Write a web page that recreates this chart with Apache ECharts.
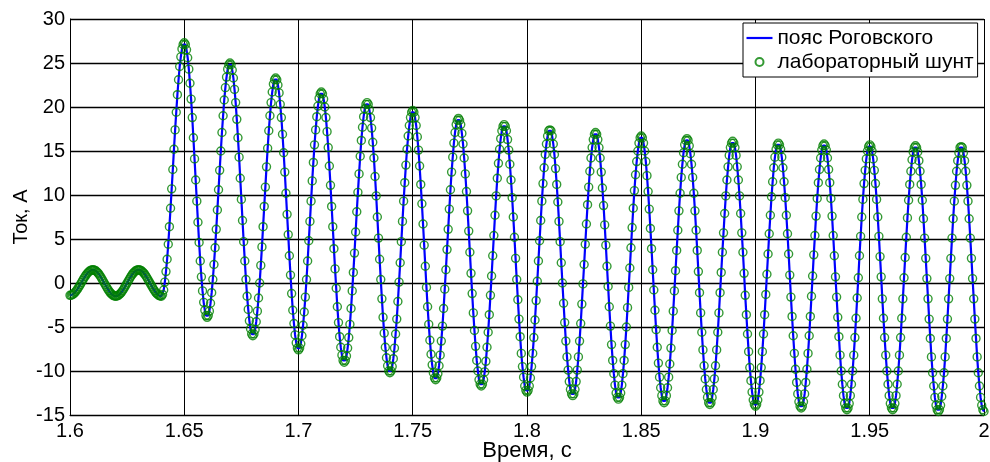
<!DOCTYPE html>
<html>
<head>
<meta charset="utf-8">
<script src="https://cdn.jsdelivr.net/npm/echarts@6/dist/echarts.min.js"></script>
<style>
  html, body { margin: 0; padding: 0; background: #fff; }
  #chart { width: 990px; height: 462px; }
</style>
</head>
<body>
<div id="chart"></div>
<script>
// Sampling of the record: first sample time and step, s
const startTime = 1.6;
const sampleStep = 0.0005;

// Axis ticks
const timeTicks = { min: 1.6, max: 2.0, step: 0.05 };
const currentTicks = { min: -15, max: 30, step: 5 };

// Series names (legend)
const seriesNames = ['пояс Роговского', 'лабораторный шунт'];

// Load current before the fault, 1.600 ... 1.6395 s, A
const preFaultCurrent = [
  -1.4,-1.38,-1.33,-1.24,-1.12,-0.98,-0.8,-0.61,-0.4,-0.18,0.05,0.28,0.5,0.71,0.9,1.08,1.22,1.34,1.43,1.48,
  1.5,1.48,1.43,1.34,1.21,1.06,0.88,0.68,0.46,0.23,0,-0.23,-0.46,-0.68,-0.88,-1.06,-1.21,-1.34,-1.43,-1.48,
  -1.5,-1.48,-1.43,-1.34,-1.21,-1.06,-0.88,-0.68,-0.46,-0.23,0,0.23,0.46,0.68,0.88,1.06,1.21,1.34,1.43,1.48,
  1.5,1.48,1.43,1.34,1.21,1.06,0.88,0.68,0.46,0.23,0,-0.23,-0.46,-0.68,-0.88,-1.06,-1.21,-1.34,-1.43,-1.48
];

// Fault current with decaying offset, 1.640 ... 2.000 s, A
const faultCurrent = [
  -1.5,-1.3,-0.8,0.1,1.3,2.7,4.4,6.4,8.5,10.7,12.9,15.2,17.4,19.4,21.4,23.1,24.6,25.7,26.6,27.1,
  27.3,27.1,26.5,25.6,24.3,22.7,20.9,18.8,16.5,14.1,11.7,9.3,6.9,4.6,2.5,0.7,-0.9,-2.2,-3.1,-3.7,
  -3.9,-3.7,-3.2,-2.3,-1.1,0.4,2.1,4.0,6.1,8.3,10.6,12.8,15.0,17.1,19.0,20.8,22.2,23.4,24.3,24.8,
  25.0,24.8,24.2,23.3,22.0,20.5,18.6,16.5,14.3,11.9,9.5,7.1,4.7,2.5,0.4,-1.5,-3.0,-4.3,-5.2,-5.8,
  -6.0,-5.8,-5.3,-4.4,-3.2,-1.7,0.0,2.0,4.1,6.4,8.7,10.9,13.2,15.3,17.3,19.0,20.5,21.7,22.6,23.1,
  23.3,23.1,22.5,21.6,20.3,18.8,16.9,14.8,12.6,10.2,7.8,5.5,3.1,0.9,-1.2,-3.1,-4.6,-5.9,-6.8,-7.4,
  -7.6,-7.4,-6.9,-6.0,-4.8,-3.3,-1.6,0.4,2.5,4.8,7.0,9.3,11.6,13.7,15.7,17.4,18.9,20.1,21.0,21.5,
  21.7,21.5,20.9,20.0,18.8,17.2,15.4,13.3,11.1,8.7,6.4,3.9,1.6,-0.6,-2.7,-4.5,-6.1,-7.3,-8.2,-8.8,
  -9.0,-8.8,-8.3,-7.4,-6.2,-4.7,-2.9,-0.9,1.2,3.4,5.8,8.1,10.3,12.4,14.4,16.2,17.7,18.9,19.8,20.3,
  20.5,20.3,19.7,18.8,17.6,16.0,14.2,12.1,9.9,7.5,5.1,2.7,0.4,-1.8,-3.9,-5.7,-7.3,-8.5,-9.4,-10.0,
  -10.2,-10.0,-9.5,-8.6,-7.4,-5.8,-4.1,-2.1,0.1,2.3,4.7,7.0,9.3,11.4,13.4,15.2,16.7,17.9,18.8,19.4,
  19.6,19.4,18.8,17.9,16.6,15.1,13.3,11.2,9.0,6.7,4.3,1.9,-0.5,-2.7,-4.7,-6.5,-8.1,-9.3,-10.2,-10.8,
  -11.0,-10.8,-10.3,-9.4,-8.2,-6.6,-4.9,-2.9,-0.7,1.5,3.8,6.1,8.4,10.6,12.6,14.3,15.9,17.1,18.0,18.5,
  18.7,18.5,18.0,17.0,15.8,14.2,12.4,10.4,8.2,5.9,3.5,1.1,-1.2,-3.4,-5.4,-7.2,-8.8,-10.0,-11.0,-11.5,
  -11.7,-11.5,-11.0,-10.1,-8.9,-7.3,-5.6,-3.6,-1.4,0.8,3.1,5.4,7.7,9.9,11.9,13.6,15.2,16.4,17.3,17.8,
  18.0,17.8,17.3,16.3,15.1,13.5,11.7,9.7,7.5,5.2,2.8,0.4,-1.9,-4.1,-6.1,-8.0,-9.5,-10.7,-11.7,-12.2,
  -12.4,-12.2,-11.7,-10.8,-9.5,-8.0,-6.2,-4.2,-2.0,0.2,2.5,4.8,7.1,9.3,11.3,13.1,14.6,15.8,16.7,17.3,
  17.4,17.3,16.7,15.8,14.6,13.0,11.2,9.2,7.0,4.7,2.3,0.0,-2.3,-4.5,-6.6,-8.4,-9.9,-11.2,-12.1,-12.6,
  -12.8,-12.6,-12.1,-11.2,-9.9,-8.4,-6.6,-4.6,-2.4,-0.1,2.1,4.4,6.7,8.9,10.9,12.7,14.2,15.4,16.3,16.9,
  17.1,16.9,16.3,15.4,14.2,12.6,10.8,8.8,6.6,4.3,1.9,-0.4,-2.7,-4.9,-7.0,-8.8,-10.3,-11.6,-12.5,-13.0,
  -13.2,-13.0,-12.5,-11.6,-10.3,-8.8,-7.0,-5.0,-2.8,-0.5,1.7,4.0,6.3,8.5,10.5,12.3,13.8,15.0,15.9,16.5,
  16.7,16.5,15.9,15.0,13.8,12.2,10.4,8.4,6.2,3.9,1.5,-0.8,-3.1,-5.3,-7.3,-9.1,-10.7,-11.9,-12.8,-13.4,
  -13.6,-13.4,-12.8,-11.9,-10.7,-9.2,-7.4,-5.4,-3.2,-0.9,1.4,3.7,6.0,8.2,10.2,12.0,13.5,14.8,15.7,16.2,
  16.4,16.2,15.6,14.7,13.5,12.0,10.2,8.2,6.0,3.7,1.3,-1.1,-3.4,-5.6,-7.6,-9.4,-10.9,-12.1,-13.0,-13.6,
  -13.8,-13.6,-13.0,-12.1,-10.9,-9.4,-7.6,-5.6,-3.4,-1.1,1.2,3.5,5.7,7.9,9.9,11.7,13.2,14.5,15.4,15.9,
  16.1,15.9,15.4,14.5,13.2,11.7,9.9,7.9,5.7,3.5,1.1,-1.4,-3.6,-5.8,-7.8,-9.6,-11.1,-12.4,-13.3,-13.8,
  -14.0,-13.8,-13.3,-12.4,-11.1,-9.6,-7.8,-5.8,-3.6,-1.3,1.0,3.3,5.6,7.7,9.8,11.5,13.1,14.3,15.2,15.7,
  15.9,15.7,15.2,14.3,13.1,11.5,9.7,7.7,5.6,3.3,0.9,-1.6,-3.8,-6.0,-8.0,-9.8,-11.3,-12.6,-13.5,-14.0,
  -14.2,-14.0,-13.5,-12.6,-11.3,-9.8,-8.0,-6.0,-3.8,-1.5,0.8,3.2,5.4,7.6,9.6,11.4,12.9,14.2,15.1,15.6,
  15.8,15.6,15.1,14.2,12.9,11.4,9.6,7.6,5.4,3.1,0.7,-1.6,-3.9,-6.1,-8.2,-10.0,-11.5,-12.8,-13.7,-14.2,
  -14.4,-14.2,-13.7,-12.8,-11.5,-10.0,-8.2,-6.2,-4.0,-1.7,0.6,3.1,5.3,7.5,9.5,11.3,12.8,14.1,15.0,15.5,
  15.7,15.5,15.0,14.1,12.8,11.3,9.5,7.5,5.3,3.0,0.7,-1.8,-4.0,-6.2,-8.2,-10.0,-11.5,-12.8,-13.7,-14.2,
  -14.4,-14.2,-13.7,-12.8,-11.5,-10.0,-8.2,-6.2,-4.0,-1.8,0.6,2.9,5.2,7.4,9.4,11.2,12.7,14.0,14.9,15.4,
  15.6,15.4,14.9,13.9,12.7,11.2,9.4,7.3,5.1,2.8,0.5,-1.8,-4.1,-6.3,-8.4,-10.2,-11.7,-13.0,-13.9,-14.4,
  -14.6,-14.4,-13.9,-12.9,-11.7,-10.2,-8.4,-6.3,-4.1,-1.8,0.5,2.8,5.1,7.3,9.3,11.1,12.7,13.9,14.8,15.4,
  15.5,15.4,14.8,13.9,12.7,11.1,9.3,7.3,5.1,2.8,0.5,-1.8,-4.1,-6.3,-8.4,-10.2,-11.7,-13.0,-13.9,-14.4,
  -14.6
];

// Both sensors give the same trace at this scale
const rogowskiCurrent = preFaultCurrent.concat(faultCurrent);
const shuntCurrent = rogowskiCurrent;

function toPoints(values) {
  return values.map((v, i) => [+(startTime + i * sampleStep).toFixed(4), v]);
}

const FONT = "'Liberation Sans', Arial, sans-serif";
const tickText = { fontFamily: FONT, fontSize: 20, color: '#000' };
const xNameText = { fontFamily: FONT, fontSize: 22, color: '#000' };
const yNameText = { fontFamily: FONT, fontSize: 20, color: '#000' };
const legendText = { fontFamily: FONT, fontSize: 21, color: '#000' };

const chart = echarts.init(document.getElementById('chart'), null, { renderer: 'canvas' });

chart.setOption({
  animation: false,
  backgroundColor: '#fff',
  grid: { left: 70, right: 6, top: 19, bottom: 47, containLabel: false, outerBoundsMode: 'none' },
  legend: {
    orient: 'vertical',
    left: 743,
    top: 23,
    itemWidth: 26,
    itemHeight: 8,
    itemGap: 3,
    padding: [4.5, 4, 4.5, 3.5],
    backgroundColor: '#fff',
    borderColor: '#000',
    borderWidth: 1,
    borderRadius: 0,
    textStyle: legendText,
    data: [
      { name: seriesNames[0], icon: 'path://M0 0H26V2.2H0Z', itemStyle: { color: '#0000ff' } },
      { name: seriesNames[1] }
    ]
  },
  xAxis: {
    type: 'value',
    min: timeTicks.min,
    max: timeTicks.max,
    interval: timeTicks.step,
    name: 'Время, с',
    nameLocation: 'middle',
    nameGap: 25,
    nameMoveOverlap: false,
    nameTextStyle: xNameText,
    axisLine: { show: true, onZero: false, lineStyle: { color: '#000', width: 1 } },
    axisTick: { show: false },
    axisLabel: Object.assign({ margin: 6, formatter: v => String(+v.toFixed(2)) }, tickText),
    splitLine: { show: true, lineStyle: { color: '#000', width: 1 } }
  },
  yAxis: {
    type: 'value',
    min: currentTicks.min,
    max: currentTicks.max,
    interval: currentTicks.step,
    name: 'Ток, А',
    nameLocation: 'middle',
    nameGap: 39,
    nameMoveOverlap: false,
    nameTextStyle: yNameText,
    axisLine: { show: true, lineStyle: { color: '#000', width: 1 } },
    axisTick: { show: false },
    axisLabel: Object.assign({ margin: 5 }, tickText),
    splitLine: { show: true, lineStyle: { color: '#000', width: 1.3 } }
  },
  series: [
    {
      name: seriesNames[0],
      type: 'line',
      data: toPoints(rogowskiCurrent),
      symbol: 'none',
      lineStyle: { color: '#0000ff', width: 2.2 },
      itemStyle: { color: '#0000ff' },
      z: 3
    },
    {
      name: seriesNames[1],
      type: 'scatter',
      data: toPoints(shuntCurrent),
      symbol: 'circle',
      symbolSize: 8,
      itemStyle: { color: 'rgba(0,0,0,0)', borderColor: '#008000', borderWidth: 1.4 },
      z: 4
    }
  ]
});
</script>
</body>
</html>
